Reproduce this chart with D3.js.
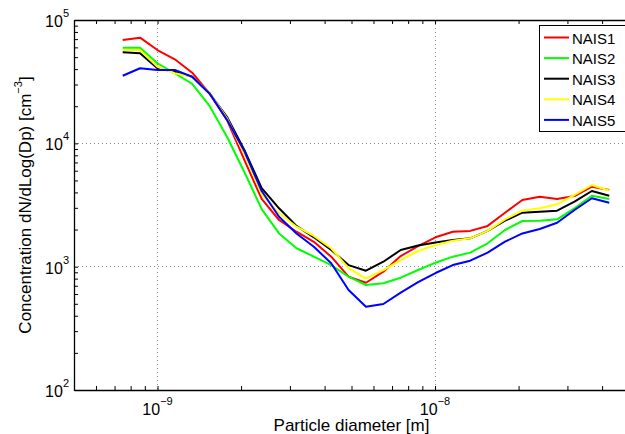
<!DOCTYPE html>
<html><head><meta charset="utf-8">
<script src="https://cdn.jsdelivr.net/npm/d3@7/dist/d3.min.js"></script>
<style>
body{margin:0;background:#fff}
svg{display:block}
text{font-family:"Liberation Sans",Arial,Helvetica,sans-serif;fill:#000}
</style>
</head><body>
<svg id="chart" width="625" height="434"></svg>
<script>
// Particle diameters [m]
const diameters = [0.749e-9,0.865e-9,0.999e-9,1.154e-9,1.333e-9,1.540e-9,1.779e-9,2.055e-9,2.373e-9,2.741e-9,
  3.167e-9,3.658e-9,4.225e-9,4.880e-9,5.637e-9,6.512e-9,7.522e-9,8.688e-9,10.04e-9,11.59e-9,
  13.39e-9,15.47e-9,17.87e-9,20.64e-9,23.84e-9,27.54e-9,31.81e-9,36.74e-9,42.44e-9];
const seriesNames = ["NAIS1","NAIS2","NAIS3","NAIS4","NAIS5"];
const seriesColors = ["#ff0000","#00ff00","#000000","#ffff00","#0000ff"];
const nais1 = [68800,71900,57100,48000,37400,25400,15500,7330,3540,2390,1920,1590,1205,829,741,910,1220,1470,1730,1920,1950,2140,2740,3470,3690,3540,3740,4450,4180];
const nais2 = [59600,59600,44600,37000,30300,20100,11300,5860,2930,1860,1410,1205,1030,829,710,733,814,939,1077,1205,1300,1547,1983,2346,2360,2421,2973,3762,3540];
const nais3 = [54700,53700,40600,38100,34700,25400,16400,8830,4340,2973,2140,1730,1365,1030,927,1097,1365,1484,1570,1645,1698,1950,2360,2740,2790,2843,3363,4107,3762];
const nais4 = [57100,57100,41800,37000,34700,25730,15960,8195,3884,2708,2109,1773,1410,970,805,939,1132,1340,1498,1624,1698,1950,2421,2843,2973,3203,3811,4593,4130];
const nais5 = [35300,40600,39300,39300,34700,25400,15500,8665,4107,2542,1860,1451,1065,647,474,498,615,748,888,1030,1118,1300,1594,1860,2020,2272,2880,3584,3301];
const seriesValues = [nais1,nais2,nais3,nais4,nais5];
const xDomain = [5e-10, 5e-8];
const yDomain = [1e2, 1e5];
const xTickExps = [-9,-8];
const yTickExps = [2,3,4,5];
const xLabel = "Particle diameter [m]";
const yLabel = "Concentration dN/dLog(Dp) [cm";

const svg = d3.select("#chart");
const L = 74, R = 629, T = 20, B = 390;
const x = d3.scaleLog().domain(xDomain).range([L, R]);
const y = d3.scaleLog().domain(yDomain).range([B, T]);

// grid (major decades only)
const gx = [1e-9, 1e-8], gy = [1e3, 1e4];
svg.append("g").selectAll("line").data(gx).join("line")
  .attr("x1", d => x(d)).attr("x2", d => x(d)).attr("y1", T).attr("y2", B)
  .attr("stroke", "#8c8c8c").attr("stroke-width", 1).attr("stroke-dasharray", "1,3").attr("shape-rendering","crispEdges");
svg.append("g").selectAll("line").data(gy).join("line")
  .attr("y1", d => y(d)).attr("y2", d => y(d)).attr("x1", L).attr("x2", R)
  .attr("stroke", "#8c8c8c").attr("stroke-width", 1).attr("stroke-dasharray", "1,3").attr("shape-rendering","crispEdges");

// axes with inward ticks (all major+minor), labels drawn separately
const xTicks = x.ticks();
const yTicks = y.ticks();
const tickLen = 4;
const axB = d3.axisBottom(x).tickValues(xTicks).tickSizeInner(-tickLen).tickSizeOuter(0).tickFormat("");
const axT = d3.axisTop(x).tickValues(xTicks).tickSizeInner(-tickLen).tickSizeOuter(0).tickFormat("");
const axL = d3.axisLeft(y).tickValues(yTicks).tickSizeInner(-tickLen).tickSizeOuter(0).tickFormat("");
const axR = d3.axisRight(y).tickValues(yTicks).tickSizeInner(-tickLen).tickSizeOuter(0).tickFormat("");
function styleAx(g){ g.selectAll("path").attr("stroke","#000").attr("stroke-width",1.3); g.selectAll("line").attr("stroke","#000").attr("stroke-width",1); }
svg.append("g").attr("transform",`translate(0,${B})`).call(axB).call(styleAx);
svg.append("g").attr("transform",`translate(0,${T})`).call(axT).call(styleAx);
svg.append("g").attr("transform",`translate(${L},0)`).call(axL).call(styleAx);
svg.append("g").attr("transform",`translate(${R},0)`).call(axR).call(styleAx);

// tick labels
const xl = svg.append("g").selectAll("text").data(xTickExps).join("text")
  .attr("x", d => x(Math.pow(10,d))).attr("y", 415).attr("text-anchor","middle").attr("font-size",16);
xl.append("tspan").text("10");
xl.append("tspan").attr("dy",-10).attr("font-size",11).text(d => "\u2212" + Math.abs(d));
const yl = svg.append("g").selectAll("text").data(yTickExps).join("text")
  .attr("x", 69).attr("y", d => y(Math.pow(10,d)) + 7).attr("text-anchor","end").attr("font-size",16);
yl.append("tspan").text("10");
yl.append("tspan").attr("dy",-10).attr("font-size",11).text(d => d);

// axis labels
svg.append("text").attr("x",(L+R)/2).attr("y",431).attr("text-anchor","middle").attr("font-size",17).text(xLabel);
const ylab = svg.append("text").attr("transform",`translate(31,${(T+B)/2}) rotate(-90)`).attr("text-anchor","middle").attr("font-size",17);
ylab.append("tspan").text(yLabel);
ylab.append("tspan").attr("dy",-9).attr("font-size",11).text("\u22123");
ylab.append("tspan").attr("dy",9).text("]");

// lines
const line = d3.line().x((d,i) => x(diameters[i])).y(d => y(d));
svg.append("g").selectAll("path").data(seriesValues).join("path")
  .attr("d", line).attr("fill","none").attr("stroke",(d,i)=>seriesColors[i]).attr("stroke-width",2).attr("stroke-linejoin","round");

// legend
const lg = svg.append("g");
lg.append("rect").attr("x",539.5).attr("y",25.5).attr("width",120).attr("height",106).attr("fill","#fff").attr("stroke","#000").attr("stroke-width",1);
const it = lg.selectAll("g").data(seriesNames).join("g").attr("transform",(d,i)=>`translate(0,${37.5 + i*20.6})`);
it.append("line").attr("x1",544).attr("x2",569).attr("y1",0).attr("y2",0).attr("stroke",(d,i)=>seriesColors[i]).attr("stroke-width",2);
it.append("text").attr("x",572).attr("y",6).attr("font-size",15).text(d=>d);
</script>
</body></html>
